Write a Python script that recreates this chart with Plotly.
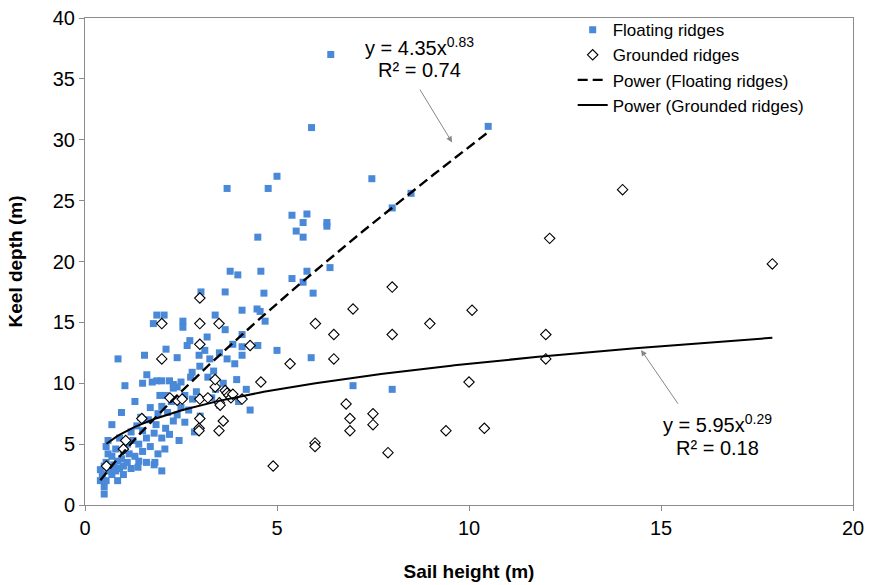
import numpy as np
import plotly.graph_objects as go

floating_x = [0.40, 0.40, 0.45, 0.50, 0.50, 0.55, 0.50, 0.55, 0.60, 0.60, 0.55, 0.60, 0.65, 0.70, 0.70, 0.70,
              0.75, 0.80, 0.80, 0.85, 0.85, 0.90, 0.90, 0.95, 0.95, 1.00, 1.00, 0.86, 1.04, 1.00,
              1.10, 1.10, 1.15, 1.20, 1.20, 1.25, 1.30, 1.30, 1.35, 1.40, 1.40, 1.45, 1.50, 1.50, 1.50,
              1.55, 1.60, 1.60, 1.61, 1.65, 1.70, 1.70, 1.75, 1.78, 1.80, 1.80, 1.85, 1.87, 1.87, 1.90,
              1.90, 1.95, 2.00, 2.00, 2.00, 2.06, 2.00, 1.82, 2.08, 1.38, 2.30, 2.40,
              2.10, 2.10, 2.11, 2.15, 2.20, 2.20, 2.25, 2.30, 2.30, 2.40, 2.40, 2.45, 2.50, 2.50, 2.55,
              2.55, 2.60, 2.60, 2.66, 2.73, 2.70, 2.75, 2.79, 2.80, 2.85, 2.90, 2.97, 2.99, 3.00, 3.02,
              3.12, 3.18, 3.20, 3.25, 3.30, 3.35, 3.39, 3.40, 3.50, 3.50, 3.60, 3.65, 3.65, 3.70, 3.70,
              3.75, 3.78, 3.85, 3.90, 3.98, 3.95, 4.00,
              4.09, 4.09, 4.09, 4.09, 4.20, 4.30, 4.48, 4.50, 4.50, 4.56, 4.58, 4.66, 4.69, 4.77, 5.00, 5.00,
              5.39, 5.78, 5.68, 6.30, 6.30, 5.50, 5.68, 5.78, 6.38, 5.39, 5.68, 5.94, 5.89, 6.98, 8.00,
              6.40, 5.90, 10.50, 7.47, 8.49, 8.00]
floating_y = [2.0, 2.9, 2.5, 1.5, 0.9, 2.0, 3.2, 3.5, 2.8, 4.2, 4.8, 5.3, 3.0, 2.5, 4.0, 6.6,
              3.3, 2.8, 4.6, 3.6, 2.0, 3.0, 5.5, 3.8, 7.6, 3.2, 4.5, 12.0, 9.8, 2.5,
              3.5, 5.0, 4.2, 3.0, 6.0, 5.3, 4.0, 8.5, 6.5, 3.6, 5.0, 7.2, 4.4, 6.1, 10.0,
              12.3, 3.5, 5.5, 10.7, 7.0, 4.8, 8.0, 10.1, 14.9, 5.9, 3.3, 6.6, 10.2, 15.6, 7.5,
              4.2, 9.0, 5.5, 8.1, 10.2, 15.6, 2.8, 3.5, 4.6, 3.1, 9.9, 9.7,
              6.3, 9.0, 12.8, 7.6, 5.8, 10.2, 8.5, 6.9, 9.6, 12.1, 7.4, 5.3, 8.0, 10.1, 15.1,
              14.6, 6.8, 9.0, 13.1, 13.5, 7.8, 10.5, 10.9, 8.7, 6.0, 9.3, 12.3, 11.4, 7.3, 17.5,
              12.7, 13.8, 10.5, 12.0, 8.8, 11.0, 15.6, 9.5, 12.5, 8.2, 10.0, 14.4, 17.5, 26.0, 12.0,
              9.0, 19.2, 13.2, 11.6, 18.9, 10.3, 8.5,
              16.0, 14.0, 13.0, 12.3, 9.5, 7.8, 16.1, 22.0, 13.1, 15.9, 19.2, 17.4, 15.1, 26.0, 27.0, 12.7,
              23.8, 23.9, 23.2, 23.2, 22.9, 22.5, 22.0, 19.2, 19.5, 18.6, 18.3, 17.4, 12.1, 9.8, 9.5,
              37.0, 31.0, 31.1, 26.8, 25.6, 24.4]

grounded_x = [0.56, 1.00, 1.06, 1.48, 2.00, 2.00, 2.21, 2.40, 2.53, 2.97, 2.97, 2.99, 2.99, 2.99, 2.99,
              2.99, 3.20, 3.39, 3.39, 3.49, 3.49, 3.50, 3.52, 3.60, 3.65, 3.70, 3.75, 3.80, 3.85, 4.09,
              4.30, 4.58, 4.90, 5.34, 5.99, 5.99, 6.00, 6.48, 6.48, 6.80, 6.90, 6.90, 6.98, 7.50, 7.50,
              7.89, 8.00, 8.00, 8.98, 9.40, 10.00, 10.08, 10.40, 12.00, 12.00, 12.10, 14.00, 17.90]
grounded_y = [3.2, 4.6, 5.3, 7.1, 12.0, 14.9, 8.8, 8.6, 8.7, 6.3, 6.1, 7.1, 8.7, 13.2, 14.9,
              17.0, 8.8, 9.7, 10.3, 6.1, 14.9, 8.4, 8.2, 6.9, 9.4, 9.2, 9.0, 8.8, 9.1, 8.7,
              13.1, 10.1, 3.2, 11.6, 5.1, 4.8, 14.9, 14.0, 12.0, 8.3, 7.1, 6.1, 16.1, 7.5, 6.6,
              4.3, 17.9, 14.0, 14.9, 6.1, 10.1, 16.0, 6.3, 12.0, 14.0, 21.9, 25.9, 19.8]

# Power-law trendline coefficients shown on the chart
floating_fit = (4.35, 0.83, 0.40, 10.5)   # a, b, x_start, x_end
grounded_fit = (5.95, 0.29, 0.56, 17.9)

x_ticks = [0, 5, 10, 15, 20]
y_ticks = [0, 5, 10, 15, 20, 25, 30, 35, 40]

FONT = "Liberation Sans, Arial, sans-serif"

def fit_curve(a, b, x0, x1):
    xs = np.linspace(x0, x1, 200)
    return xs, a * xs ** b

fig = go.Figure()
fig.add_trace(go.Scatter(
    x=floating_x, y=floating_y, mode="markers", name="Floating ridges",
    marker=dict(symbol="square", size=7, color="#4a88d8", line=dict(width=0))))
fig.add_trace(go.Scatter(
    x=grounded_x, y=grounded_y, mode="markers", name="Grounded ridges",
    marker=dict(symbol="diamond", size=8, color="white", line=dict(width=1.1, color="black"))))
fx, fy = fit_curve(*floating_fit)
fig.add_trace(go.Scatter(x=fx, y=fy, mode="lines", name="Power (Floating ridges)",
                         line=dict(color="black", width=2.4, dash="10px,5px")))
gx, gy = fit_curve(*grounded_fit)
fig.add_trace(go.Scatter(x=gx, y=gy, mode="lines", name="Power (Grounded ridges)",
                         line=dict(color="black", width=2)))

ann_font = dict(family=FONT, size=20, color="black")
anns = [
    dict(x=8.70, y=37.7, text="y = 4.35x<sup>0.83</sup>"),
    dict(x=8.70, y=35.7, text="R² = 0.74"),
    dict(x=16.46, y=6.7, text="y = 5.95x<sup>0.29</sup>"),
    dict(x=16.46, y=4.7, text="R² = 0.18"),
]
for a in anns:
    fig.add_annotation(x=a["x"], y=a["y"], text=a["text"], showarrow=False,
                       xref="x", yref="y", font=ann_font)
# arrows
fig.add_annotation(x=9.56, y=29.78, ax=8.70, ay=34.24, axref="x", ayref="y", xref="x", yref="y",
                   text="", showarrow=True, arrowhead=2, arrowsize=1.2, arrowwidth=1, arrowcolor="#888888")
fig.add_annotation(x=14.48, y=12.74, ax=15.47, ay=8.19, axref="x", ayref="y", xref="x", yref="y",
                   text="", showarrow=True, arrowhead=2, arrowsize=1.2, arrowwidth=1, arrowcolor="#888888")

axis_common = dict(showgrid=False, zeroline=False, showline=True, linecolor="#8c8c8c", linewidth=1,
                   mirror=True, ticks="outside", ticklen=5, tickcolor="#8c8c8c", automargin=False,
                   tickfont=dict(family=FONT, size=20, color="black"))
fig.update_xaxes(range=[0, 20], tickvals=x_ticks, **axis_common,
                 title=dict(text="<b>Sail height (m)</b>", font=dict(family=FONT, size=19, color="black"),
                            standoff=26))
fig.update_yaxes(range=[0, 40], tickvals=y_ticks, **axis_common,
                 title=dict(text="<b>Keel depth (m)</b>", font=dict(family=FONT, size=19, color="black"),
                            standoff=25))

fig.update_layout(
    width=870, height=585,
    margin=dict(l=85, r=17, t=12, b=80),
    paper_bgcolor="white", plot_bgcolor="white",
    font=dict(family=FONT, size=19, color="black"),
    showlegend=True,
    legend=dict(x=0.635, y=1.012, xanchor="left", yanchor="top", bgcolor="rgba(255,255,255,0)",
                font=dict(family=FONT, size=17, color="black"), itemwidth=30,
                tracegroupgap=0),
)

fig.write_html("out.html")
